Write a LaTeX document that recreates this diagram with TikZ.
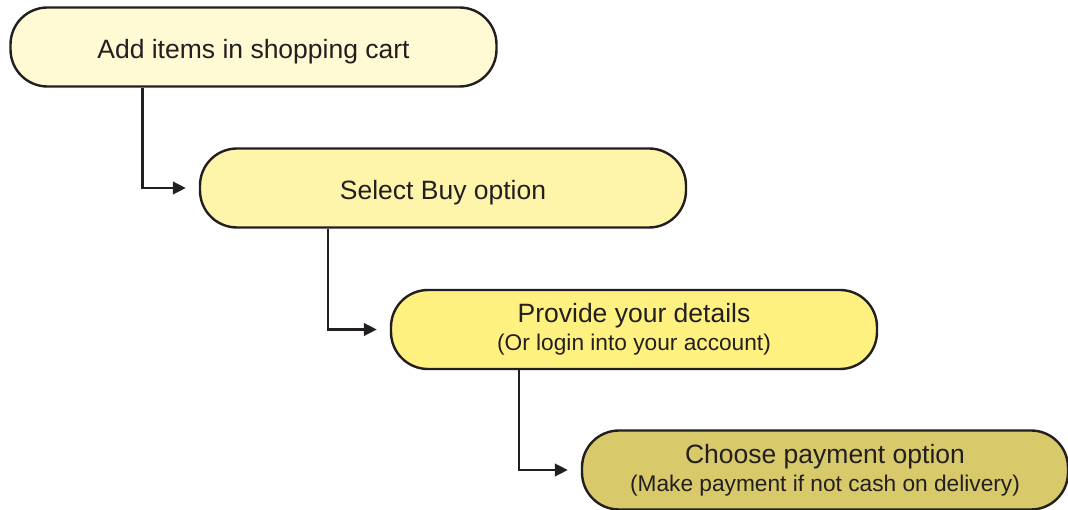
\documentclass[tikz,border=0pt]{standalone}
\usepackage{fontspec}
\setmainfont{Liberation Sans}
\usetikzlibrary{arrows.meta}
\definecolor{ink}{RGB}{35,31,32}
\definecolor{fillA}{RGB}{255,249,212}
\definecolor{fillB}{RGB}{255,245,170}
\definecolor{fillC}{RGB}{255,241,128}
\definecolor{fillD}{RGB}{216,201,106}
\tikzset{
  stepbox/.style={draw=ink, line width=2.4pt, rounded corners=37pt, minimum width=486pt, minimum height=79pt, inner sep=0pt, text=ink, font=\fontsize{26.5}{30}\selectfont},
  oneline/.style={text height=24pt, text depth=0pt},
  twoline/.style={text height=20pt, text depth=33pt},
  conn/.style={draw=ink, line width=2.5pt, -{Triangle[length=13pt,width=12.5pt]}, shorten >=13pt}
}
\newcommand{\twolines}[2]{\vtop{\baselineskip=27.5pt\hbox{\makebox[0pt]{#1}}\hbox{\makebox[0pt]{\fontsize{22.7}{26}\selectfont #2}}}}
\begin{document}
\begin{tikzpicture}[x=1pt,y=-1pt]
\useasboundingbox (0,0) rectangle (1068,510);
\node[stepbox, oneline, fill=fillA] (b1) at (253.5,47) {Add items in shopping cart};
\node[stepbox, oneline, fill=fillB] (b2) at (443,188) {Select Buy option};
\node[stepbox, twoline, fill=fillC] (b3) at (634,329.5) {\twolines{Provide your details}{(Or login into your account)}};
\node[stepbox, twoline, fill=fillD] (b4) at (825,470) {\twolines{Choose payment option}{(Make payment if not cash on delivery)}};
\draw[conn] ([xshift=133pt]b1.south west) |- (b2.west);
\draw[conn] ([xshift=129pt]b2.south west) |- (b3.west);
\draw[conn] ([xshift=129pt]b3.south west) |- (b4.west);
\end{tikzpicture}
\end{document}
